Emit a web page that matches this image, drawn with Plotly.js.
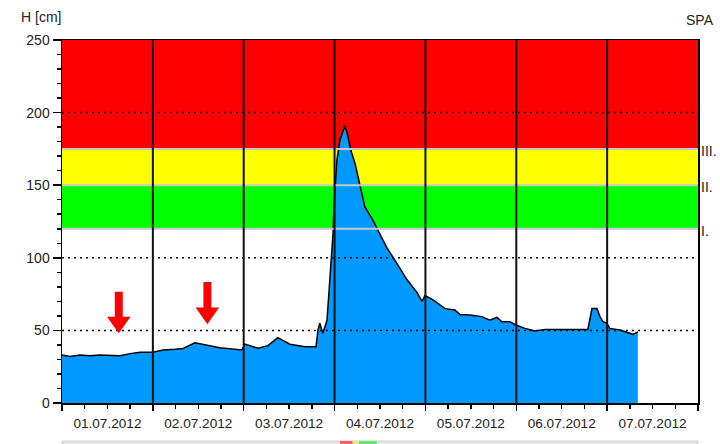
<!DOCTYPE html>
<html>
<head>
<meta charset="utf-8">
<script src="https://cdn.plot.ly/plotly-3.0.1.min.js"></script>
<style>
html,body{margin:0;padding:0;background:#fff;}
#chart{width:720px;height:444px;}
</style>
</head>
<body>
<div id="chart"></div>
<script>
// Water level H [cm] at station SPA, hours since 01.07.2012 00:00
const hours = [0, 2.1, 4.8, 7.4, 10, 12.7, 15.3, 18, 20.6, 24, 26.7, 29.8, 32, 35.1, 37.8, 41.7, 47.5, 48.3, 51.8, 54.4, 57, 60.2, 64.2, 67.1, 67.6, 68.1, 68.9, 70, 70.8, 71.6, 71.8, 72.6, 73.4, 74.2, 74.7, 75.3, 76.3, 77.4, 78.7, 80, 81.9, 83.5, 85.8, 88.5, 91.1, 93.8, 95.1, 95.9, 98, 101.2, 103.8, 105.1, 107.8, 110.9, 113, 114.9, 116.2, 118.3, 119.9, 122.3, 124.9, 127.6, 138.9, 140, 141.3, 142.1, 142.9, 143.9, 144.7, 147.4, 150.8, 152.1];
const levels = [33, 32, 33, 32.5, 33, 33, 32.5, 34, 35, 35, 36.5, 37, 37.6, 41.5, 40, 38, 36.5, 40.6, 37.7, 39.5, 45, 40.5, 38.8, 38.8, 50, 55, 48, 57, 87, 117, 133, 167, 181, 188, 191, 186, 174, 165, 149, 135, 127, 119, 107, 96, 85, 76, 70, 74, 71, 65, 64, 61, 60.6, 59.5, 57, 59, 56, 56, 53.7, 51.4, 49.6, 50.7, 50.7, 65, 65, 59.5, 56, 55, 51.4, 50.3, 47.3, 49];

const dayLabels = ['01.07.2012', '02.07.2012', '03.07.2012', '04.07.2012', '05.07.2012', '06.07.2012', '07.07.2012'];
// flood warning levels (cm) and their labels
const warnLimits = [120, 150, 175];
const warnLabels = ['I.', 'II.', 'III.'];
const yMax = 250;
const dottedLevels = [50, 100, 200];
// arrows marking (hour, top cm, tip cm)
const arrowHours = [15.0, 38.4];
const arrowTops = [76.7, 83.3];
const arrowTips = [48.0, 54.2];

const bandColors = ['#00ff00', '#ffff00', '#ff0000'];
const font = 'Liberation Sans, Arial, sans-serif';
const totalHours = dayLabels.length * 24;

const shapes = [];
// bands
const bandEdges = warnLimits.concat([yMax]);
for (let i = 0; i < warnLimits.length; i++) {
  shapes.push({type: 'rect', xref: 'paper', yref: 'y', x0: 0, x1: 1, y0: bandEdges[i], y1: bandEdges[i + 1],
    fillcolor: bandColors[i], line: {width: 0}, layer: 'below'});
}
// band boundary lines
warnLimits.forEach(v => shapes.push({type: 'line', xref: 'paper', yref: 'y', x0: 0, x1: 1, y0: v, y1: v,
  line: {color: '#c8c8c8', width: 2}, layer: 'above'}));
// dotted grid
dottedLevels.forEach(v => shapes.push({type: 'line', xref: 'paper', yref: 'y', x0: 0, x1: 1, y0: v, y1: v,
  line: {color: '#000', width: 1.5, dash: '2px,4px'}, layer: 'above'}));
// day separators
for (let d = 1; d < dayLabels.length; d++) {
  shapes.push({type: 'line', xref: 'x', yref: 'paper', x0: d * 24, x1: d * 24, y0: 0, y1: 1,
    line: {color: '#111', width: 2}, layer: 'above'});
}
// arrows
for (let i = 0; i < arrowHours.length; i++) {
  const h = arrowHours[i], top = arrowTops[i], tip = arrowTips[i];
  const sw = 1.05, hw = 3.1, hb = tip + (top - tip) * 0.4;
  const p = `M ${h - sw} ${top} L ${h + sw} ${top} L ${h + sw} ${hb} L ${h + hw} ${hb} L ${h} ${tip} L ${h - hw} ${hb} L ${h - sw} ${hb} Z`;
  shapes.push({type: 'path', xref: 'x', yref: 'y', path: p, fillcolor: '#ff0000', line: {width: 0}, layer: 'above'});
}
// cut-off strip of the next panel at the bottom edge
shapes.push({type: 'rect', xref: 'paper', yref: 'paper', x0: 0, x1: 1, y0: -0.1047, y1: -0.12,
  fillcolor: '#e4e4e4', line: {color: '#cfcfcf', width: 1}, layer: 'above'});
shapes.push({type: 'rect', xref: 'paper', yref: 'paper', x0: 0.437, x1: 0.457, y0: -0.1047, y1: -0.12,
  fillcolor: '#ff6060', line: {width: 0}, layer: 'above'});
shapes.push({type: 'rect', xref: 'paper', yref: 'paper', x0: 0.457, x1: 0.464, y0: -0.1047, y1: -0.12,
  fillcolor: '#f0f070', line: {width: 0}, layer: 'above'});
shapes.push({type: 'rect', xref: 'paper', yref: 'paper', x0: 0.467, x1: 0.495, y0: -0.1047, y1: -0.12,
  fillcolor: '#70e070', line: {width: 0}, layer: 'above'});

const annotations = [
  {text: 'H [cm]', xref: 'paper', yref: 'paper', x: 0, y: 1, xanchor: 'right', yanchor: 'bottom', xshift: 1, yshift: 13,
    showarrow: false, font: {family: font, size: 14, color: '#222'}},
  {text: 'SPA', xref: 'paper', yref: 'paper', x: 1, y: 1, xanchor: 'right', yanchor: 'bottom', xshift: 18, yshift: 10,
    showarrow: false, font: {family: font, size: 14, color: '#222'}}
];
warnLimits.forEach((v, i) => annotations.push({text: warnLabels[i], xref: 'paper', yref: 'y', x: 1, y: v,
  xanchor: 'left', yanchor: 'middle', xshift: 1, yshift: -2, showarrow: false, font: {family: font, size: 14, color: '#222'}}));

const traces = [
  {x: hours, y: levels, type: 'scatter', mode: 'lines', fill: 'tozeroy', fillcolor: '#0099ff',
    line: {color: '#000', width: 1.5}, hoverinfo: 'skip'},
  {x: [0, totalHours], y: [null, null], xaxis: 'x2', type: 'scatter', mode: 'lines', showlegend: false, hoverinfo: 'skip'}
];

const layout = {
  width: 720, height: 444,
  margin: {l: 62, r: 22, t: 40, b: 41},
  paper_bgcolor: '#fff', plot_bgcolor: '#fff',
  showlegend: false,
  font: {family: font, size: 13, color: '#222'},
  xaxis: {
    range: [0, totalHours], showgrid: false, zeroline: false,
    tickvals: dayLabels.map((_, i) => i * 24 + 12), ticktext: dayLabels,
    ticks: 'outside', ticklen: 4, tickwidth: 1.5, tickcolor: '#000', ticklabelstandoff: 3,
    minor: {dtick: 6, tick0: 0, ticks: 'outside', ticklen: 4, tickwidth: 1.5, tickcolor: '#000', showgrid: false},
    showline: true, linecolor: '#000', linewidth: 1.5, mirror: true,
    tickfont: {family: font, size: 13.6, color: '#222'}, fixedrange: true
  },
  xaxis2: {
    range: [0, totalHours], overlaying: 'x', anchor: 'y', side: 'bottom', showgrid: false, zeroline: false,
    tickvals: dayLabels.map((_, i) => i * 24).concat([totalHours]), showticklabels: false,
    ticks: 'outside', ticklen: 7, tickwidth: 1.5, tickcolor: '#000', showline: false
  },
  yaxis: {
    range: [0, yMax], showgrid: false, zeroline: false,
    tickvals: [0, 50, 100, 150, 200, 250],
    ticks: 'outside', ticklen: 8, tickwidth: 1.5, tickcolor: '#000',
    minor: {dtick: 10, tick0: 0, ticks: 'outside', ticklen: 4, tickwidth: 1.5, tickcolor: '#000', showgrid: false},
    showline: true, linecolor: '#000', linewidth: 1.5, mirror: true,
    tickfont: {family: font, size: 14, color: '#222'}, fixedrange: true
  },
  shapes: shapes,
  annotations: annotations
};

Plotly.newPlot('chart', traces, layout, {displayModeBar: false, staticPlot: true});
</script>
</body>
</html>
